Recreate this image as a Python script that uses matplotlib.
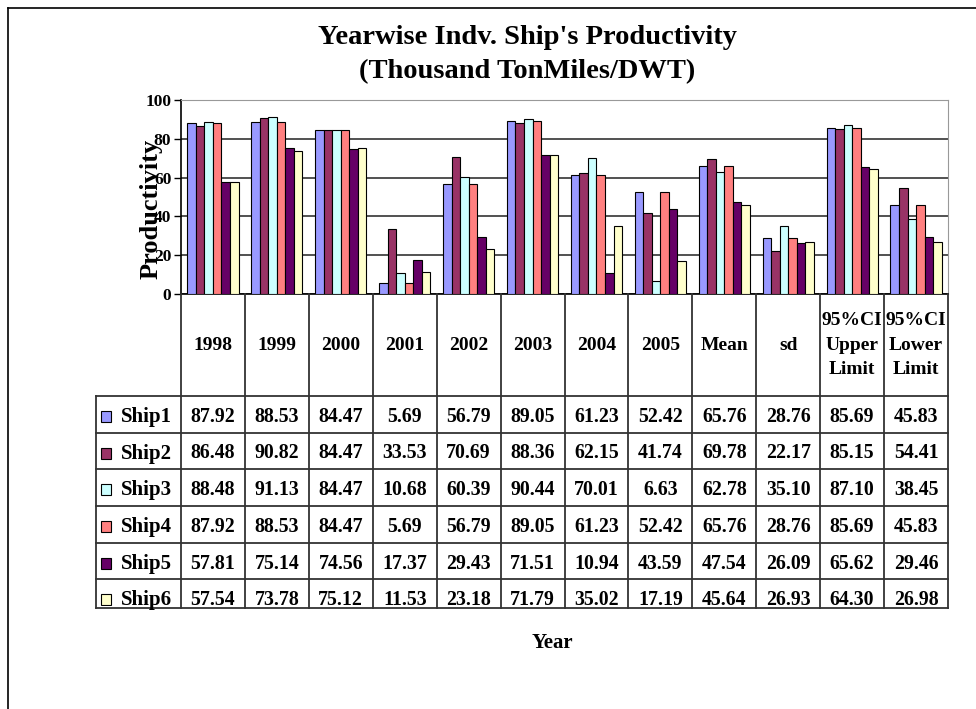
import matplotlib
matplotlib.use("Agg")
import matplotlib.pyplot as plt
import numpy as np
from matplotlib.transforms import Bbox, TransformedBbox

plt.rcParams['font.family'] = ['Liberation Serif', 'DejaVu Serif']
plt.rcParams['font.weight'] = 'bold'

columns = ['1998', '1999', '2000', '2001', '2002', '2003', '2004', '2005',
           'Mean', 'sd', '95%CI\nUpper\nLimit', '95%CI\nLower\nLimit']
ships = ['Ship1', 'Ship2', 'Ship3', 'Ship4', 'Ship5', 'Ship6']

ship1 = [87.92, 88.53, 84.47, 5.69, 56.79, 89.05, 61.23, 52.42, 65.76, 28.76, 85.69, 45.83]
ship2 = [86.48, 90.82, 84.47, 33.53, 70.69, 88.36, 62.15, 41.74, 69.78, 22.17, 85.15, 54.41]
ship3 = [88.48, 91.13, 84.47, 10.68, 60.39, 90.44, 70.01, 6.63, 62.78, 35.10, 87.10, 38.45]
ship4 = [87.92, 88.53, 84.47, 5.69, 56.79, 89.05, 61.23, 52.42, 65.76, 28.76, 85.69, 45.83]
ship5 = [57.81, 75.14, 74.56, 17.37, 29.43, 71.51, 10.94, 43.59, 47.54, 26.09, 65.62, 29.46]
ship6 = [57.54, 73.78, 75.12, 11.53, 23.18, 71.79, 35.02, 17.19, 45.64, 26.93, 64.30, 26.98]
values = [ship1, ship2, ship3, ship4, ship5, ship6]

colors = ['#9999FF', '#993366', '#CCFFFF', '#FF8080', '#660066', '#FFFFCC']

W, H = 976, 709
fig = plt.figure(figsize=(W / 100, H / 100), dpi=100)

# outer chart frame
fig.add_artist(plt.Line2D([8 / W, 8 / W], [0, 1 - 8 / H], color='black', lw=1.2))
fig.add_artist(plt.Line2D([8 / W, 1], [1 - 8 / H, 1 - 8 / H], color='black', lw=1.2))

x0, x1, ytop, ybot = 181, 948, 100, 294
ax = fig.add_axes([x0 / W, 1 - ybot / H, (x1 - x0) / W, (ybot - ytop) / H])

n = len(columns)
x = np.arange(n)
bw = 1 / 7.5
for i, (vals, c) in enumerate(zip(values, colors)):
    ax.bar(x + (i - 2.5) * bw, vals, bw, color=c, edgecolor='black', linewidth=0.8, zorder=3)

ax.set_xlim(-0.5, n - 0.5)
ax.set_ylim(0, 100)
ax.set_yticks([0, 20, 40, 60, 80, 100])
ax.tick_params(axis='y', labelsize=12.5, length=5, width=1, pad=2)
ax.set_xticks([])
ax.yaxis.grid(True, color='#222222', lw=1.1, zorder=0)
ax.spines['top'].set_color('#999999')
ax.spines['right'].set_color('#999999')
ax.spines['left'].set_linewidth(1.2)
ax.spines['bottom'].set_linewidth(1.2)

fig.text(151 / W, 1 - 209 / H, 'Productivity', rotation=90, ha='center', va='center', fontsize=19)
fig.text(527 / W, 1 - 38 / H, "Yearwise Indv. Ship's Productivity", ha='center', va='center', fontsize=20.5)
fig.text(527 / W, 1 - 72 / H, "(Thousand TonMiles/DWT)", ha='center', va='center', fontsize=20.5)
fig.text(552 / W, 1 - 643 / H, 'Year', ha='center', va='center', fontsize=15)

# data table, x in category units, y in pixels
tab = fig.add_axes([x0 / W, 0, (x1 - x0) / W, 1])
tab.set_xlim(-0.5, n - 0.5)
tab.set_ylim(H, 0)
tab.axis('off')

cw = (x1 - x0) / n
xl = -0.5 - (x0 - 96) / cw
rows = [396, 432.5, 469, 506, 543, 579]
ybottom = 608
clip = TransformedBbox(Bbox([[xl - 0.1, ybottom - 2.5], [n, 0]]), tab.transData)

lk = dict(color='#333333', lw=1.3, clip_on=False)
for k in range(n + 1):
    tab.plot([k - 0.5, k - 0.5], [ybot, ybottom], **lk)
tab.plot([xl, xl], [rows[0], ybottom], **lk)
for r in rows + [ybottom]:
    tab.plot([xl, n - 0.5], [r, r], **lk)

for k, lab in enumerate(columns):
    tab.text(k, 345, lab, ha='center', va='center', fontsize=14, linespacing=1.55, clip_on=False)

for j, (name, vals) in enumerate(zip(ships, values)):
    yc = rows[j] + 21
    sq = plt.Rectangle((xl + 5 / cw, yc - 6), 10 / cw, 11, facecolor=colors[j],
                       edgecolor='black', lw=0.8, clip_on=True)
    tab.add_patch(sq)
    sq.set_clip_box(clip)
    t = tab.text(xl + 25 / cw, yc, name, ha='left', va='center', fontsize=15)
    t.set_clip_box(clip)
    for k, v in enumerate(vals):
        t = tab.text(k, yc, f'{v:.2f}', ha='center', va='center', fontsize=14.3)
        t.set_clip_box(clip)

fig.savefig('out.png', dpi=100)
